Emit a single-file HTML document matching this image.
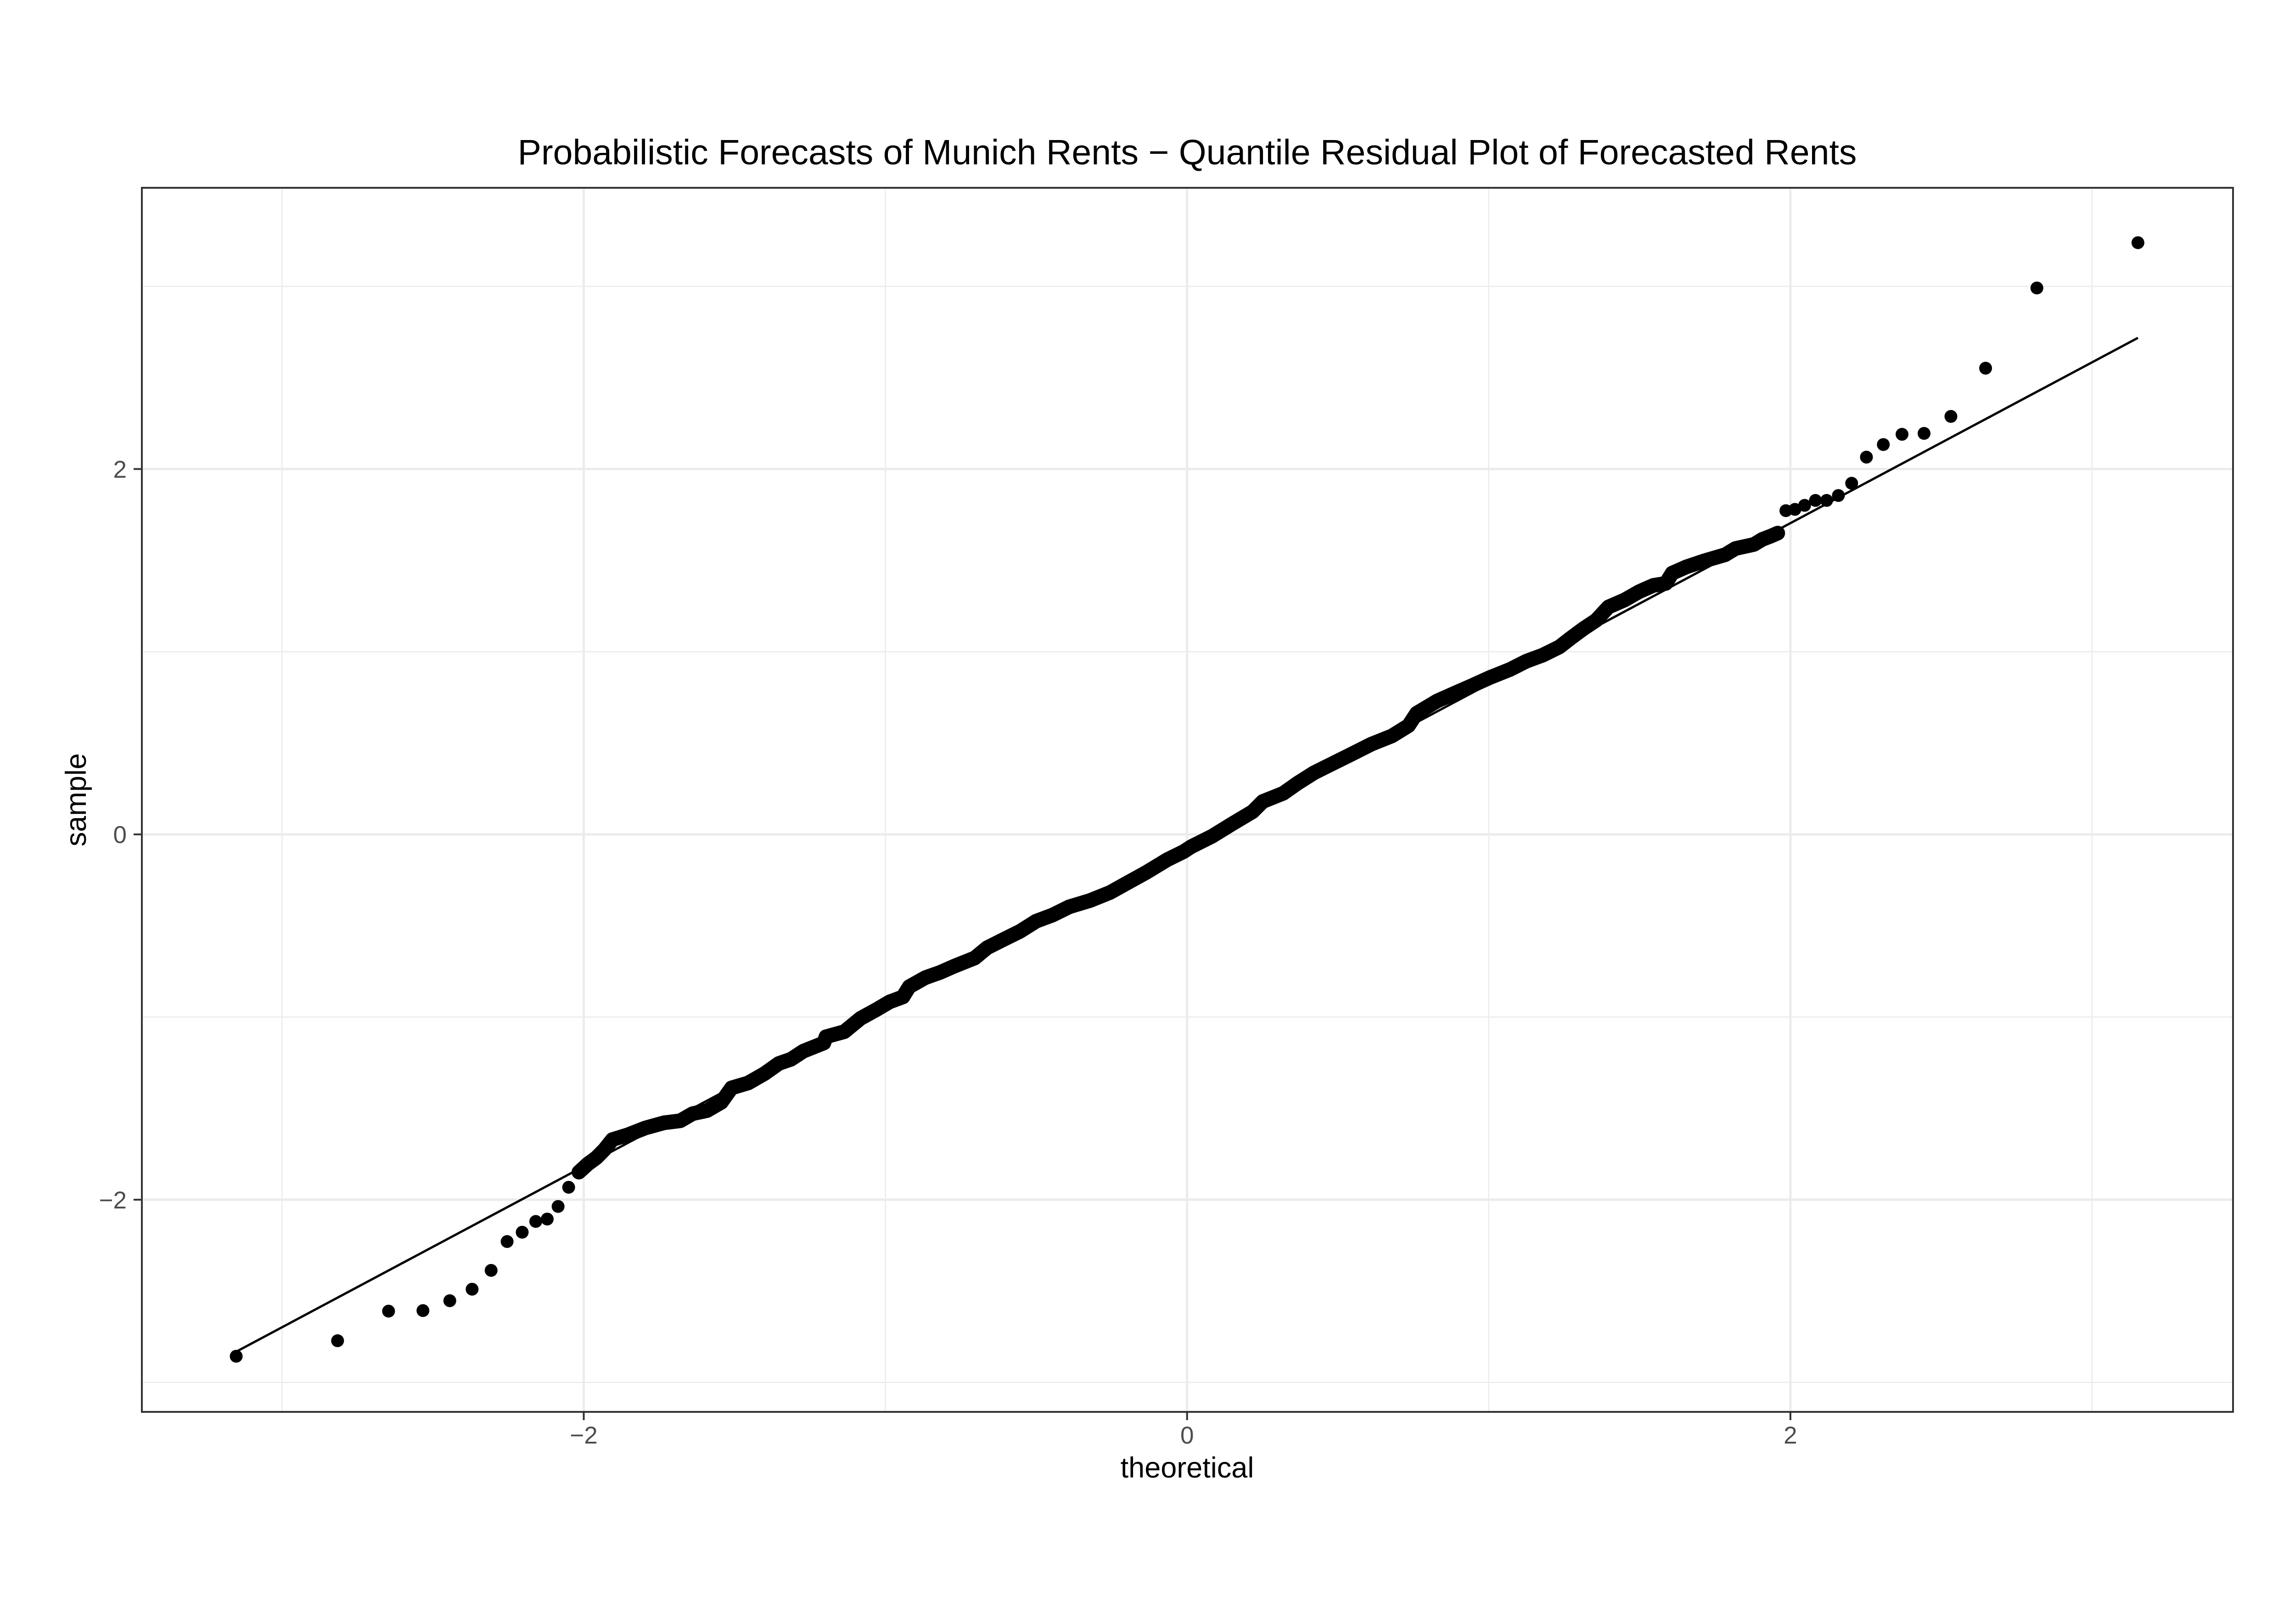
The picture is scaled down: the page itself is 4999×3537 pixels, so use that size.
<!DOCTYPE html>
<html><head><meta charset="utf-8"><style>
html,body{margin:0;padding:0;background:#fff;}
svg{display:block;}
text{font-family:"Liberation Sans",Arial,sans-serif;}
</style></head><body>
<svg id="chart" width="4999" height="3537" viewBox="0 0 4999 3537" xmlns="http://www.w3.org/2000/svg">
<rect x="0" y="0" width="4999" height="3537" fill="#fff"/>
<text x="2586" y="358" font-size="77" text-anchor="middle" fill="#000">Probabilistic Forecasts of Munich Rents − Quantile Residual Plot of Forecasted Rents</text>
<g id="grid"></g>
<g id="marks"></g>
<rect x="309" y="409" width="4555" height="2666" fill="none" stroke="#333" stroke-width="4"/>
<g id="axes"></g>
<text x="2586" y="3218" font-size="63" text-anchor="middle" fill="#000">theoretical</text>
<text transform="translate(187,1742) rotate(-90)" font-size="63" text-anchor="middle" fill="#000">sample</text>
</svg>
<script>
const theoretical = [-3.152,-2.816,-2.647,-2.533,-2.444,-2.370,-2.307,-2.254,-2.204,-2.159,-2.121,-2.085,-2.050,
-2.016,-1.986,-1.958,-1.931,-1.905,-1.856,-1.795,-1.734,-1.680,-1.639,-1.591,-1.544,-1.510,-1.455,-1.401,-1.353,-1.313,-1.272,-1.204,-1.197,-1.136,-1.082,-1.027,-0.986,
-0.942,-0.921,-0.867,-0.819,-0.772,-0.704,-0.663,-0.609,-0.554,-0.500,-0.446,-0.391,-0.323,-0.255,-0.194,-0.133,-0.065,-0.011,
0.014,0.082,0.149,0.217,0.251,0.319,0.367,0.421,0.489,0.544,0.611,0.679,0.734,0.761,0.829,0.897,0.944,
1.003,1.071,1.125,1.179,1.234,1.274,1.315,1.356,1.397,1.451,1.499,1.546,1.587,1.608,1.655,1.716,1.784,1.818,1.879,1.907,1.934,1.958,
1.985,2.015,2.047,2.083,2.120,2.159,2.203,2.252,2.308,2.370,2.443,2.532,2.647,2.817,3.152];
const sample = [-2.857,-2.772,-2.610,-2.607,-2.553,-2.490,-2.387,-2.229,-2.178,-2.119,-2.106,-2.037,-1.932,
-1.849,-1.804,-1.770,-1.725,-1.671,-1.646,-1.607,-1.579,-1.568,-1.529,-1.512,-1.467,-1.388,-1.361,-1.310,-1.254,-1.231,-1.187,-1.142,-1.108,-1.080,-1.007,-0.957,-0.917,
-0.890,-0.834,-0.784,-0.756,-0.722,-0.677,-0.621,-0.576,-0.531,-0.475,-0.442,-0.397,-0.363,-0.318,-0.262,-0.206,-0.138,-0.094,
-0.067,-0.011,0.057,0.124,0.180,0.225,0.281,0.337,0.393,0.438,0.494,0.539,0.595,0.663,0.730,0.780,0.814,
0.858,0.903,0.948,0.981,1.026,1.077,1.127,1.172,1.245,1.284,1.329,1.363,1.374,1.430,1.464,1.498,1.531,1.565,1.587,1.615,1.632,1.649,
1.772,1.779,1.801,1.828,1.828,1.855,1.922,2.065,2.134,2.190,2.195,2.288,2.552,2.991,3.239];
const lineT = [-3.152, 3.152];
const lineS = [-2.832, 2.718];
const xTicks = [-2, 0, 2];
const xTickLabels = ["−2", "0", "2"];
const yTicks = [-2, 0, 2];
const yTickLabels = ["−2", "0", "2"];
const xMinor = [-3, -1, 1, 3];
const yMinor = [-3, -1, 1, 3];

const NS = "http://www.w3.org/2000/svg";
const PL = 309, PR = 4864, PT = 409, PB = 3075;
function xs(v){ return 2585.7 + v * 657.1; }
function ys(v){ return 1817.2 - v * 397.85; }
function mk(tag, attrs, parent){
  const e = document.createElementNS(NS, tag);
  for (const k in attrs) e.setAttribute(k, attrs[k]);
  parent.appendChild(e);
  return e;
}
const grid = document.getElementById('grid');
const marks = document.getElementById('marks');
const axes = document.getElementById('axes');
mk('rect', {x:PL, y:PT, width:PR-PL, height:PB-PT, fill:'#fff'}, grid);
xMinor.forEach(v => {
  const l = mk('line', {x1:xs(v), x2:xs(v), y1:PT, y2:PB, stroke:'#ebebeb', 'stroke-width':2.5}, grid);
  
  
});
yMinor.forEach(v => {
  const l = mk('line', {x1:PL, x2:PR, y1:ys(v), y2:ys(v), stroke:'#ebebeb', 'stroke-width':2.5}, grid);
  
  
});
xTicks.forEach(v => {
  const l = mk('line', {x1:xs(v), x2:xs(v), y1:PT, y2:PB, stroke:'#ebebeb', 'stroke-width':5}, grid);
  
  
});
yTicks.forEach(v => {
  const l = mk('line', {x1:PL, x2:PR, y1:ys(v), y2:ys(v), stroke:'#ebebeb', 'stroke-width':5}, grid);
  
  
});

// connecting band for the dense central region
let d = '';
let open = false;
for (let i = 0; i < theoretical.length; i++) {
  const t = theoretical[i];
  const x = xs(t), y = ys(sample[i]);
  const dense = t > -2.03 && t < 1.97;
  if (!dense) { open = false; continue; }
  if (open) {
    const px = xs(theoretical[i-1]), py = ys(sample[i-1]);
    if (Math.hypot(x - px, y - py) < 90) { d += `L${x.toFixed(1)},${y.toFixed(1)}`; continue; }
  }
  d += `M${x.toFixed(1)},${y.toFixed(1)}`;
  open = true;
}
const band = mk('path', {d:d, fill:'none', stroke:'#000', 'stroke-width':32, 'stroke-linecap':'round', 'stroke-linejoin':'round'}, marks);



for (let i = 0; i < theoretical.length; i++) {
  const c = mk('circle', {cx:xs(theoretical[i]), cy:ys(sample[i]), r:14, fill:'#000'}, marks);
  
  
}
const ql = mk('line', {x1:xs(lineT[0]), y1:ys(lineS[0]), x2:xs(lineT[1]), y2:ys(lineS[1]), stroke:'#000', 'stroke-width':5}, marks);



xTicks.forEach((v, i) => {
  const t = mk('line', {x1:xs(v), x2:xs(v), y1:PB, y2:PB+18, stroke:'#333', 'stroke-width':4}, axes);
  
  
  const l = mk('text', {x:xs(v), y:3144, 'font-size':53, 'text-anchor':'middle', fill:'#4d4d4d'}, axes);
  l.textContent = xTickLabels[i];
  
  
});
yTicks.forEach((v, i) => {
  const t = mk('line', {x1:PL-18, x2:PL, y1:ys(v), y2:ys(v), stroke:'#333', 'stroke-width':4}, axes);
  
  
  const l = mk('text', {x:276, y:ys(v)+19, 'font-size':53, 'text-anchor':'end', fill:'#4d4d4d'}, axes);
  l.textContent = yTickLabels[i];
  
  
});
</script>
</body></html>
